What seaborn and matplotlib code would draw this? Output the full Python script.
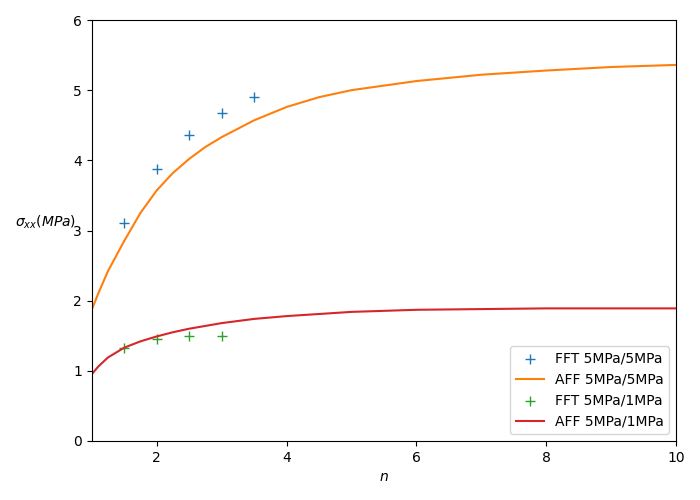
import matplotlib
matplotlib.use("Agg")
import matplotlib.pyplot as plt
import seaborn as sns

# FFT points
n_fft_55 = [1.5, 2.0, 2.5, 3.0, 3.5]
s_fft_55 = [3.10, 3.87, 4.36, 4.67, 4.90]
n_fft_51 = [1.5, 2.0, 2.5, 3.0]
s_fft_51 = [1.33, 1.45, 1.50, 1.50]

# AFF curves
n_aff = [1.0, 1.1, 1.25, 1.5, 1.75, 2.0, 2.25, 2.5, 2.75, 3.0, 3.5, 4.0, 4.5, 5.0, 6.0, 7.0, 8.0, 9.0, 10.0]
s_aff_55 = [1.87, 2.10, 2.42, 2.85, 3.25, 3.57, 3.82, 4.02, 4.19, 4.33, 4.57, 4.76, 4.90, 5.00, 5.13, 5.22, 5.28, 5.33, 5.36]
s_aff_51 = [0.95, 1.06, 1.19, 1.33, 1.42, 1.49, 1.55, 1.60, 1.64, 1.68, 1.74, 1.78, 1.81, 1.84, 1.87, 1.88, 1.89, 1.89, 1.89]

fig, ax = plt.subplots(figsize=(7, 5), dpi=100)
fig.subplots_adjust(left=0.131, right=0.966, top=0.96, bottom=0.118)
sns.scatterplot(x=n_fft_55, y=s_fft_55, ax=ax, color="#1f77b4", marker="+", s=50,
                linewidth=1, label="FFT 5MPa/5MPa")
sns.lineplot(x=n_aff, y=s_aff_55, ax=ax, color="#ff7f0e", label="AFF 5MPa/5MPa", linewidth=1.5)
sns.scatterplot(x=n_fft_51, y=s_fft_51, ax=ax, color="#2ca02c", marker="+", s=50,
                linewidth=1, label="FFT 5MPa/1MPa")
sns.lineplot(x=n_aff, y=s_aff_51, ax=ax, color="#d62728", label="AFF 5MPa/1MPa", linewidth=1.5)

ax.set_xlim(1, 10)
ax.set_ylim(0, 6)
ax.set_xticks([2, 4, 6, 8, 10])
ax.set_xlabel("$n$")
ax.set_ylabel(r"$\sigma_{xx}(MPa)$", rotation=0, labelpad=20)
ax.legend(loc="lower right")
plt.savefig("out.png", dpi=100)
